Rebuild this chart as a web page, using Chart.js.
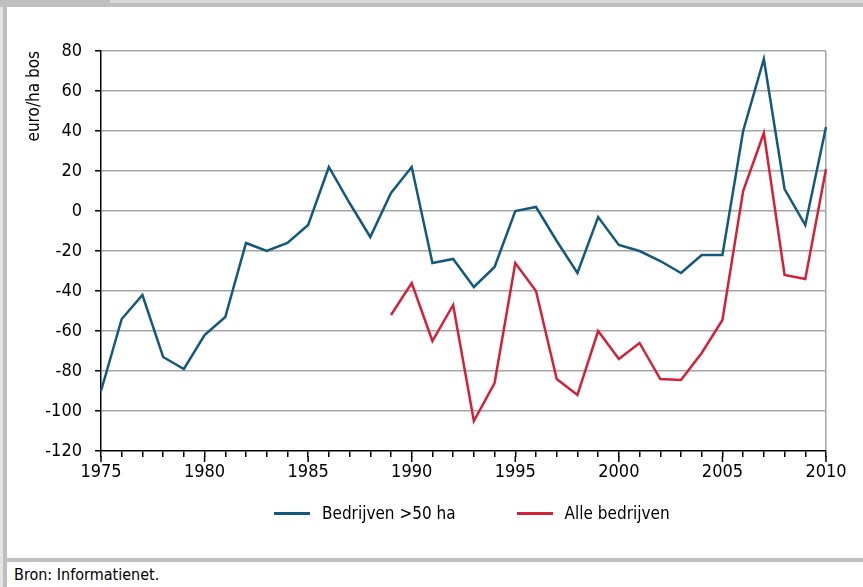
<!DOCTYPE html>
<html>
<head>
<meta charset="utf-8">
<script src="https://cdn.jsdelivr.net/npm/chart.js@4"></script>
<style>
  html, body { margin: 0; padding: 0; background: #fff; }
  body { width: 863px; height: 587px; position: relative; overflow: hidden;
         font-family: "Liberation Sans Narrow", "DejaVu Sans Condensed", Arial, sans-serif; }
  .band { position: absolute; background: #bfbfbf; }
  #wrap { position: absolute; left: 7px; top: 7px; width: 856px; height: 551px; }
  #legend { position: absolute; left: 274px; top: 503px; display: flex; align-items: center; font-size: 17px; color: #000; }
  #legend .item { display: flex; align-items: center; margin-right: 61px; }
  #legend .swatch { width: 36px; height: 3px; margin-right: 12px; }
  #source { position: absolute; left: 14px; top: 566px; font-size: 16px; line-height: 18px; color: #000; }
</style>
</head>
<body>
<div class="band" style="left:0;top:0;width:3px;height:587px;background:#e4e4e4"></div>
<div class="band" style="left:3px;top:0;width:4px;height:587px"></div>
<div class="band" style="left:0;top:0;width:863px;height:7px"></div>
<div class="band" style="left:110px;top:0;width:753px;height:3px;background:#d9d9d9"></div>
<div class="band" style="left:3px;top:558px;width:860px;height:4px"></div>
<div id="wrap"><canvas id="c" width="856" height="551"></canvas></div>
<div id="legend"></div>
<div id="source">Bron: Informatienet.</div>
<script>
var years = [1975, 1976, 1977, 1978, 1979, 1980, 1981, 1982, 1983, 1984, 1985, 1986,
    1987, 1988, 1989, 1990, 1991, 1992, 1993, 1994, 1995, 1996, 1997, 1998,
    1999, 2000, 2001, 2002, 2003, 2004, 2005, 2006, 2007, 2008, 2009, 2010];

var groot = [-90, -54, -42, -73, -79, -62, -53, -16, -20, -16, -7, 22,
    4, -13, 9, 22, -26, -24, -38, -28, 0, 2, -15, -31,
    -3, -17, -20, -25, -31, -22, -22, 40, 76, 11, -7, 42];

var alle = [null, null, null, null, null, null, null, null, null, null, null, null,
    null, null, -52, -36, -65, -47, -105, -86, -26, -40, -84, -92,
    -60, -74, -66, -84, -84.5, -71, -54.5, 10, 39, -32, -34, 21];

var seriesNames = ['Bedrijven >50 ha', 'Alle bedrijven'];
var seriesColors = ['#135a7a', '#d4213a'];
var yTicks = { min: -120, max: 80, step: 20 };

var fam = '"Liberation Sans Narrow", "DejaVu Sans Condensed", Arial, sans-serif';
var font = { family: fam, size: 18 };
var gridGrey = '#a6a6a6';

// longer tick marks on the 5-year labels
var majorTicks = {
    id: 'majorTicks',
    afterDraw: function (chart) {
        var x = chart.scales.x, ctx = chart.ctx, y0 = chart.chartArea.bottom;
        ctx.save();
        ctx.strokeStyle = '#000';
        ctx.lineWidth = 1.5;
        years.forEach(function (yr, i) {
            if (yr % 5 !== 0) return;
            var px = x.getPixelForTick(i);
            ctx.beginPath();
            ctx.moveTo(px, y0 + 5);
            ctx.lineTo(px, y0 + 11);
            ctx.stroke();
        });
        ctx.restore();
    }
};

var chart = new Chart(document.getElementById('c'), {
    type: 'line',
    data: {
        labels: years,
        datasets: [
            { label: seriesNames[0], data: groot, borderColor: seriesColors[0], backgroundColor: seriesColors[0] },
            { label: seriesNames[1], data: alle, borderColor: seriesColors[1], backgroundColor: seriesColors[1] }
        ]
    },
    options: {
        responsive: false,
        animation: false,
        layout: { padding: { left: 0, top: 44, right: 37, bottom: 0 } },
        elements: {
            line: { borderWidth: 2.5, tension: 0 },
            point: { radius: 0, hoverRadius: 0 }
        },
        plugins: { legend: { display: false }, tooltip: { enabled: false } },
        scales: {
            x: {
                type: 'category',
                offset: false,
                afterFit: function (s) { s.height = 107; },
                border: { color: '#000', width: 1.5 },
                grid: {
                    color: function (c) { return c.index === years.length - 1 ? gridGrey : 'rgba(0,0,0,0)'; },
                    tickColor: '#000',
                    tickLength: 6,
                    lineWidth: 1.5
                },
                ticks: {
                    autoSkip: false,
                    maxRotation: 0,
                    color: '#000',
                    padding: 5,
                    font: font,
                    callback: function (v, i) { return years[i] % 5 === 0 ? String(years[i]) : ''; }
                }
            },
            y: {
                min: yTicks.min,
                max: yTicks.max,
                afterFit: function (s) { s.width = 94; },
                border: { color: '#000', width: 1.5 },
                grid: {
                    color: function (c) { return c.tick.value === yTicks.min ? 'rgba(0,0,0,0)' : gridGrey; },
                    tickColor: '#000',
                    tickLength: 6,
                    lineWidth: 1.5
                },
                ticks: { stepSize: yTicks.step, color: '#000', padding: 13, font: font },
                title: {
                    display: true,
                    text: 'euro/ha bos',
                    align: 'end',
                    color: '#000',
                    font: { family: fam, size: 17 },
                    padding: { top: 17, bottom: 0 }
                }
            }
        }
    },
    plugins: [majorTicks]
});

// legend built from the datasets
var legend = document.getElementById('legend');
chart.data.datasets.forEach(function (ds) {
    var item = document.createElement('div');
    item.className = 'item';
    var sw = document.createElement('span');
    sw.className = 'swatch';
    sw.style.background = ds.borderColor;
    var t = document.createElement('span');
    t.textContent = ds.label;
    item.appendChild(sw);
    item.appendChild(t);
    legend.appendChild(item);
});
</script>
</body>
</html>
